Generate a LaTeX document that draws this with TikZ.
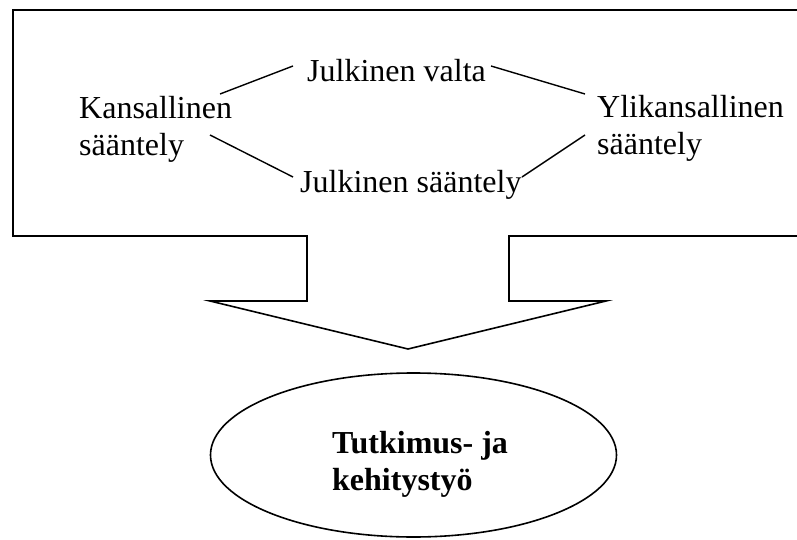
\documentclass[tikz,border=0pt]{standalone}
\usepackage{fontspec}
\setmainfont{Liberation Serif}
\usetikzlibrary{shapes.geometric}
\begin{document}
\begin{tikzpicture}[x=1pt,y=-1pt,
  outline/.style={draw=black,line width=1.6pt,line join=miter},
  link/.style={draw=black,line width=1.4pt},
  lbl/.style={inner sep=0pt,font=\fontsize{32}{37}\selectfont,align=left},
  blbl/.style={inner sep=0pt,font=\fontsize{32}{37}\selectfont\bfseries,align=left}]
\clip (0,0) rectangle (797,540);
\useasboundingbox (0,0) rectangle (797,540);
% callout box with downward arrow
\draw[outline] (810,10) -- (13,10) -- (13,236) -- (307,236) -- (307,301) -- (210,301)
  -- (408,349) -- (606,301) -- (509,301) -- (509,236) -- (810,236);
% texts
\node[lbl,anchor=north west] (kans) at (79,96) {Kansallinen\\sääntely};
\node[lbl,anchor=base west] (jv) at (307,82) {Julkinen valta};
\node[lbl,anchor=base west] (js) at (300,193) {Julkinen sääntely};
\node[lbl,anchor=north west] (ylik) at (597,95) {Ylikansallinen\\sääntely};
% connector end points
\coordinate (k1) at (220,94);
\coordinate (k2) at (210,135);
\coordinate (jv1) at (293,66);
\coordinate (jv2) at (491,66);
\coordinate (js1) at (293,177);
\coordinate (js2) at (522,177);
\coordinate (y1) at (585,94);
\coordinate (y2) at (585,135);
\draw[link] (k1) -- (jv1);
\draw[link] (k2) -- (js1);
\draw[link] (jv2) -- (y1);
\draw[link] (js2) -- (y2);
% ellipse
\node[draw=black,line width=1.6pt,ellipse,minimum width=406pt,minimum height=164pt,inner sep=0pt] (ell) at (413.5,455) {};
\node[blbl,anchor=north west] (tk) at (332,431) {Tutkimus- ja\\kehitystyö};
\end{tikzpicture}
\end{document}
